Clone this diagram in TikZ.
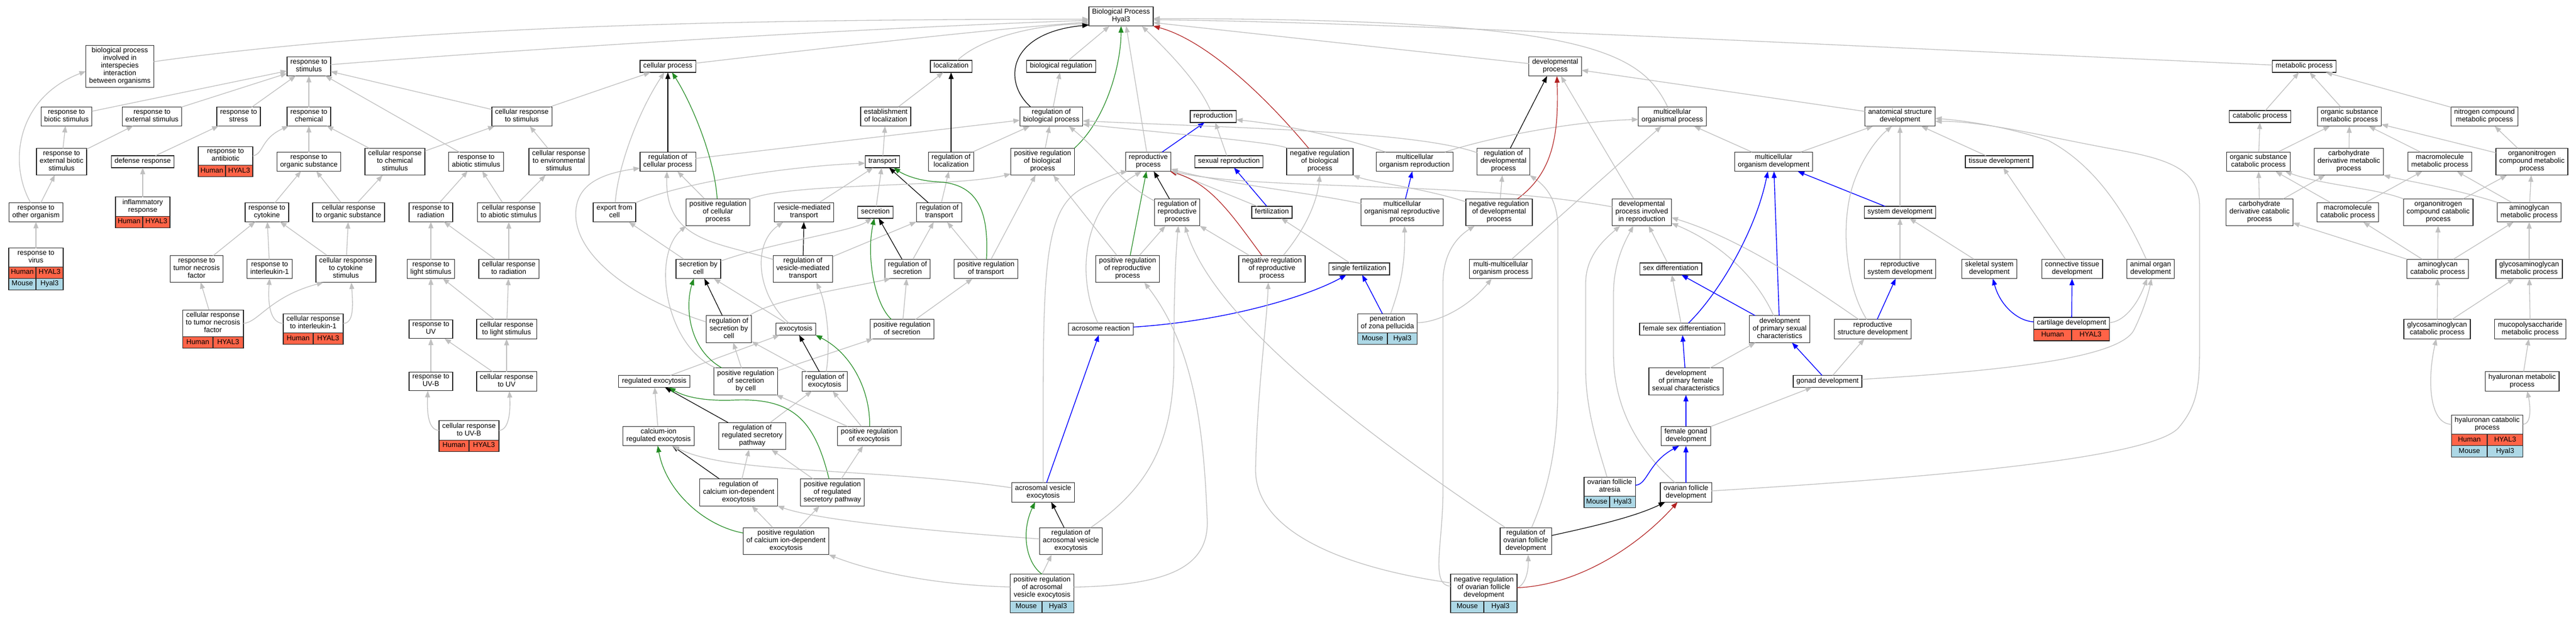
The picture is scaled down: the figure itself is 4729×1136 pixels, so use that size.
\documentclass[tikz,border=0pt]{standalone}
\usepackage{fontspec}
\setmainfont{Liberation Sans}
\usetikzlibrary{arrows.meta,calc}
\definecolor{edgegray}{HTML}{C0C0C0}
\definecolor{posgreen}{HTML}{228B22}
\definecolor{negred}{HTML}{B22222}
\definecolor{partblue}{HTML}{0000FF}
\definecolor{humanred}{HTML}{FF6347}
\definecolor{mouseblue}{HTML}{ADD8E6}
\newcommand\gofont{\fontsize{13}{14}\selectfont}
\tikzset{
  gobox/.style={draw=black!85, line width=1.3pt, fill=white, font=\gofont, align=center,
    inner xsep=6pt, inner ysep=4pt, outer sep=0pt,
    execute at begin node=\strut, execute at end node=\strut},
  gcell/.style={draw=black!85, line width=1.3pt, font=\gofont, inner sep=0pt, outer sep=0pt,
    minimum height=21pt, execute at begin node=\strut},
  human/.style={fill=humanred},
  mouse/.style={fill=mouseblue},
  isa/.style={draw=edgegray, line width=1.3pt, -{Triangle[length=12pt,width=9pt]}},
  reglink/.style={isa, draw=black, line width=1.2pt},
  poslink/.style={isa, draw=posgreen, line width=1.2pt},
  neglink/.style={isa, draw=negred, line width=1.2pt},
  partlink/.style={isa, draw=partblue, line width=1.4pt},
}
\newcommand\genecells[6]{%
  \path let \p1=(#1), \p2=(#2), \n1={(\x2-\x1)/2} in
    node[gcell,#4,minimum width=\n1,anchor=north west] (#3a) at (\p1) {#5}
    node[gcell,#4,minimum width=\n1,anchor=north east] (#3b) at (\p2) {#6};%
}
\begin{document}
\begin{tikzpicture}[x=1pt,y=-1pt]
\useasboundingbox (0,0) rectangle (4729,1136);
\fill[white] (0,0) rectangle (4729,1136);

% ---------- row 1-2
\node[gobox] (BP) at (2058,30) {Biological Process\\Hyal3};
\node[gobox] (bpi) at (220,122) {biological process\\involved in\\interspecies\\interaction\\between organisms};
\node[gobox] (rstim) at (567,122) {response to\\stimulus};
\node[gobox] (cellp) at (1226,122) {cellular process};
\node[gobox] (loc) at (1746,122) {localization};
\node[gobox] (bioreg) at (1948,122) {biological regulation};
\node[gobox] (dev) at (2855,122) {developmental\\process};
\node[gobox] (metab) at (4230,122) {metabolic process};
% ---------- row 3
\node[gobox] (rbio) at (122,214) {response to\\biotic stimulus};
\node[gobox] (rext) at (279,214) {response to\\external stimulus};
\node[gobox] (rstress) at (438,214) {response to\\stress};
\node[gobox] (rchem) at (567,214) {response to\\chemical};
\node[gobox] (crstim) at (958,214) {cellular response\\to stimulus};
\node[gobox] (estloc) at (1626,214) {establishment\\of localization};
\node[gobox] (regbp) at (1930,214) {regulation of\\biological process};
\node[gobox] (repro) at (2227,214) {reproduction};
\node[gobox] (mcop) at (3070,214) {multicellular\\organismal process};
\node[gobox] (asd) at (3488,214) {anatomical structure\\development};
\node[gobox] (catab) at (4149,214) {catabolic process};
\node[gobox] (osmp) at (4313,214) {organic substance\\metabolic process};
\node[gobox] (ncmp) at (4561,214) {nitrogen compound\\metabolic process};
% ---------- row 4
\node[gobox] (rextbio) at (113,297) {response to\\external biotic\\stimulus};
\node[gobox] (defr) at (262,297) {defense response};
\node[gobox,minimum width=100pt] (ranti) at (414,286.5) {response to\\antibiotic};
\node[gobox] (rorg) at (567,297) {response to\\organic substance};
\node[gobox] (crchem) at (725,297) {cellular response\\to chemical\\stimulus};
\node[gobox] (rabio) at (874,297) {response to\\abiotic stimulus};
\node[gobox] (crenv) at (1026,297) {cellular response\\to environmental\\stimulus};
\node[gobox] (regcp) at (1226,297) {regulation of\\cellular process};
\node[gobox] (transp) at (1620,297) {transport};
\node[gobox] (regloc) at (1746,297) {regulation of\\localization};
\node[gobox] (pregbp) at (1914,297) {positive regulation\\of biological\\process};
\node[gobox] (rproc) at (2108,297) {reproductive\\process};
\node[gobox] (sexrep) at (2256,297) {sexual reproduction};
\node[gobox] (nregbp) at (2423,297) {negative regulation\\of biological\\process};
\node[gobox] (mcorep) at (2597,297) {multicellular\\organism reproduction};
\node[gobox] (regdev) at (2760,297) {regulation of\\developmental\\process};
\node[gobox] (mcodev) at (3256,297) {multicellular\\organism development};
\node[gobox] (tisdev) at (3670,297) {tissue development};
\node[gobox] (oscp) at (4146,297) {organic substance\\catabolic process};
\node[gobox] (cdmp) at (4312,297) {carbohydrate\\derivative metabolic\\process};
\node[gobox] (mmp) at (4479,297) {macromolecule\\metabolic process};
\node[gobox] (oncmp) at (4648,297) {organonitrogen\\compound metabolic\\process};
% ---------- row 5
\node[gobox] (roth) at (66,390) {response to\\other organism};
\node[gobox,minimum width=100pt] (inflam) at (262,379.5) {inflammatory\\response};
\node[gobox] (rcyt) at (490,390) {response to\\cytokine};
\node[gobox] (crorg) at (640,390) {cellular response\\to organic substance};
\node[gobox] (rrad) at (791,390) {response to\\radiation};
\node[gobox] (crabio) at (934,390) {cellular response\\to abiotic stimulus};
\node[gobox] (expc) at (1128,390) {export from\\cell};
\node[gobox] (pregcp) at (1318,390) {positive regulation\\of cellular\\process};
\node[gobox] (vmt) at (1476,390) {vesicle-mediated\\transport};
\node[gobox] (secr) at (1607,390) {secretion};
\node[gobox] (regtr) at (1724,390) {regulation of\\transport};
\node[gobox] (regrp) at (2161,390) {regulation of\\reproductive\\process};
\node[gobox] (fert) at (2335,390) {fertilization};
\node[gobox] (mcorp) at (2574,390) {multicellular\\organismal reproductive\\process};
\node[gobox] (nregdev) at (2752,390) {negative regulation\\of developmental\\process};
\node[gobox] (dpir) at (3014,390) {developmental\\process involved\\in reproduction};
\node[gobox] (sysdev) at (3488,390) {system development};
\node[gobox] (cdcp) at (4148,390) {carbohydrate\\derivative catabolic\\process};
\node[gobox] (mcp) at (4310,390) {macromolecule\\catabolic process};
\node[gobox] (onccp) at (4476,390) {organonitrogen\\compound catabolic\\process};
\node[gobox] (amp) at (4643,390) {aminoglycan\\metabolic process};
% ---------- row 6
\node[gobox,minimum width=100pt] (rvir) at (66,473) {response to\\virus};
\node[gobox] (rtnf) at (361,494) {response to\\tumor necrosis\\factor};
\node[gobox] (ril1) at (495,494) {response to\\interleukin-1};
\node[gobox] (crcyt) at (635,494) {cellular response\\to cytokine\\stimulus};
\node[gobox] (rlight) at (791,494) {response to\\light stimulus};
\node[gobox] (crrad) at (934,494) {cellular response\\to radiation};
\node[gobox] (secc) at (1282,494) {secretion by\\cell};
\node[gobox] (regvmt) at (1474,494) {regulation of\\vesicle-mediated\\transport};
\node[gobox] (regsec) at (1666,494) {regulation of\\secretion};
\node[gobox] (pregtr) at (1810,494) {positive regulation\\of transport};
\node[gobox] (pregrp) at (2070,494) {positive regulation\\of reproductive\\process};
\node[gobox] (nregrp) at (2335,494) {negative regulation\\of reproductive\\process};
\node[gobox] (sfert) at (2495,494) {single fertilization};
\node[gobox] (mmop) at (2755,494) {multi-multicellular\\organism process};
\node[gobox] (sexdiff) at (3067,494) {sex differentiation};
\node[gobox] (rsd) at (3488,494) {reproductive\\system development};
\node[gobox] (ssd) at (3652,494) {skeletal system\\development};
\node[gobox] (ctd) at (3804,494) {connective tissue\\development};
\node[gobox] (aod) at (3948,494) {animal organ\\development};
\node[gobox] (acp) at (4475,494) {aminoglycan\\catabolic process};
\node[gobox] (gagmp) at (4643,494) {glycosaminoglycan\\metabolic process};
% ---------- row 7
\node[gobox,minimum width=100pt] (crtnf) at (391,594) {cellular response\\to tumor necrosis\\factor};
\node[gobox,minimum width=100pt] (cril1) at (575,594) {cellular response\\to interleukin-1};
\node[gobox] (ruv) at (791,604.5) {response to\\UV};
\node[gobox] (crlight) at (930,604.5) {cellular response\\to light stimulus};
\node[gobox] (regsecc) at (1338,604.5) {regulation of\\secretion by\\cell};
\node[gobox] (exo) at (1461,604.5) {exocytosis};
\node[gobox] (pregsec) at (1656,604.5) {positive regulation\\of secretion};
\node[gobox] (acr) at (2021,604.5) {acrosome reaction};
\node[gobox,minimum width=94pt] (pzp) at (2547,594) {penetration\\of zona pellucida};
\node[gobox] (fsd) at (3088,604.5) {female sex differentiation};
\node[gobox] (dpsc) at (3267,604.5) {development\\of primary sexual\\characteristics};
\node[gobox] (rstd) at (3438,604.5) {reproductive\\structure development};
\node[gobox,minimum width=100pt] (cartd) at (3803,594) {cartilage development};
\node[gobox] (gagcp) at (4474,604.5) {glycosaminoglycan\\catabolic process};
\node[gobox] (mpsmp) at (4645,604.5) {mucopolysaccharide\\metabolic process};
% ---------- row 8
\node[gobox] (ruvb) at (791,700.5) {response to\\UV-B};
\node[gobox] (cruv) at (930,700.5) {cellular response\\to UV};
\node[gobox] (rexo) at (1201,700.5) {regulated exocytosis};
\node[gobox] (pregsecc) at (1369,700.5) {positive regulation\\of secretion\\by cell};
\node[gobox] (regexo) at (1514,700.5) {regulation of\\exocytosis};
\node[gobox] (dpfsc) at (3095,700.5) {development\\of primary female\\sexual characteristics};
\node[gobox] (gonad) at (3355,700.5) {gonad development};
\node[gobox] (hymp) at (4630,700.5) {hyaluronan metabolic\\process};
% ---------- row 9
\node[gobox,minimum width=100pt] (cruvb) at (861,790.5) {cellular response\\to UV-B};
\node[gobox] (caexo) at (1209,801) {calcium-ion\\regulated exocytosis};
\node[gobox] (regrsp) at (1381,801) {regulation of\\regulated secretory\\pathway};
\node[gobox] (pregexo) at (1596,801) {positive regulation\\of exocytosis};
\node[gobox] (fgd) at (3095,801) {female gonad\\development};
\node[gobox,minimum width=100pt] (hycp) at (4566,780) {hyaluronan catabolic\\process};
% ---------- row 10
\node[gobox] (regcaexo) at (1356,904.5) {regulation of\\calcium ion-dependent\\exocytosis};
\node[gobox] (pregrsp) at (1528,904.5) {positive regulation\\of regulated\\secretory pathway};
\node[gobox] (avexo) at (1915,904.5) {acrosomal vesicle\\exocytosis};
\node[gobox,minimum width=94pt] (ofa) at (2955,894) {ovarian follicle\\atresia};
\node[gobox] (ofd) at (3095,904.5) {ovarian follicle\\development};
% ---------- row 11-12
\node[gobox] (pregcaexo) at (1443,994) {positive regulation\\of calcium ion-dependent\\exocytosis};
\node[gobox] (regavexo) at (1966,994) {regulation of\\acrosomal vesicle\\exocytosis};
\node[gobox] (regofd) at (2801,994) {regulation of\\ovarian follicle\\development};
\node[gobox,minimum width=94pt] (pregavexo) at (1913,1079.5) {positive regulation\\of acrosomal\\vesicle exocytosis};
\node[gobox,minimum width=94pt] (nregofd) at (2724,1079.5) {negative regulation\\of ovarian follicle\\development};

% ---------- gene cells
\genecells{ranti.south west}{ranti.south east}{rantiH}{human}{Human}{HYAL3}
\genecells{inflam.south west}{inflam.south east}{inflamH}{human}{Human}{HYAL3}
\genecells{rvir.south west}{rvir.south east}{rvirH}{human}{Human}{HYAL3}
\genecells{rvirHa.south west}{rvirHb.south east}{rvirM}{mouse}{Mouse}{Hyal3}
\genecells{crtnf.south west}{crtnf.south east}{crtnfH}{human}{Human}{HYAL3}
\genecells{cril1.south west}{cril1.south east}{cril1H}{human}{Human}{HYAL3}
\genecells{cruvb.south west}{cruvb.south east}{cruvbH}{human}{Human}{HYAL3}
\genecells{cartd.south west}{cartd.south east}{cartdH}{human}{Human}{HYAL3}
\genecells{pzp.south west}{pzp.south east}{pzpM}{mouse}{Mouse}{Hyal3}
\genecells{ofa.south west}{ofa.south east}{ofaM}{mouse}{Mouse}{Hyal3}
\genecells{pregavexo.south west}{pregavexo.south east}{pregavexoM}{mouse}{Mouse}{Hyal3}
\genecells{nregofd.south west}{nregofd.south east}{nregofdM}{mouse}{Mouse}{Hyal3}
\genecells{hycp.south west}{hycp.south east}{hycpH}{human}{Human}{HYAL3}
\genecells{hycpHa.south west}{hycpHb.south east}{hycpM}{mouse}{Mouse}{Hyal3}

% ---------- straight is_a edges
\foreach \a/\b in {rbio/rstim, rext/rstim, rstress/rstim, rchem/rstim, crstim/rstim, crstim/cellp, rabio/rstim,
  rextbio/rbio, rextbio/rext, defr/rstress, rorg/rchem, crchem/rchem, crchem/crstim,
  roth/rextbio, inflam/defr, rcyt/rorg, crorg/rorg, crorg/crchem, rrad/rabio,
  crenv/crstim, crabio/rabio, crabio/crenv,
  rvir/roth, rtnf/rcyt, ril1/rcyt, crcyt/rcyt, crcyt/crorg, rlight/rrad, crrad/rrad, crrad/crabio,
  crtnf/rtnf, ruv/rlight, crlight/rlight, crlight/crrad, ruvb/ruv, cruv/ruv, cruv/crlight,
  regcp/regbp, pregcp/regcp, vmt/transp, secc/expc, regvmt/regtr,
  regexo/regsecc, pregsecc/regsecc, pregsecc/pregsec, caexo/rexo, regrsp/regexo, pregexo/regexo, pregexo/pregsecc,
  regcaexo/regrsp, pregrsp/regrsp, pregrsp/pregexo, pregcaexo/regcaexo, pregcaexo/pregrsp,
  transp/estloc, estloc/loc, regloc/regbp, regtr/regloc, secr/transp,
  pregtr/regtr, pregtr/pregbp, regsec/regtr, pregsec/regsec, pregsec/pregtr,
  regbp/bioreg, pregbp/regbp, bioreg/BP,
  pregrp/regrp, pregrp/pregbp, nregrp/regrp, sexrep/repro, sfert/fert, fert/rproc,
  nregdev/regdev, dpir/dev, asd/dev, mmop/mcop, mcodev/mcop,
  sexdiff/dpir, fsd/sexdiff, dpfsc/dpsc, fgd/gonad, gonad/rstd,
  mcodev/asd, sysdev/asd, tisdev/asd, rsd/sysdev, ssd/sysdev, ctd/tisdev,
  catab/metab, osmp/metab, ncmp/metab, oscp/catab, oscp/osmp, cdmp/osmp, mmp/osmp, oncmp/osmp, oncmp/ncmp,
  cdcp/oscp, cdcp/cdmp, mcp/oscp, mcp/mmp, onccp/oncmp, amp/mmp, amp/oncmp,
  acp/cdcp, acp/mcp, acp/onccp, acp/amp, gagmp/amp, gagcp/acp, gagcp/gagmp, mpsmp/gagmp, hymp/mpsmp}
  \draw[isa] (\a) -- (\b);
\draw[isa] (rproc) -- (BP.-62);
\draw[isa] (dev) -- (BP.-11);
\draw[isa] (exo) -- (secc.-32);
\draw[isa] (rexo) -- (exo);
\draw[isa] (pregavexo.north) -- (regavexo.-145);

% ---------- straight regulates / part_of / positive
\foreach \a/\b in {regcp/cellp, regloc/loc, regtr/transp, regsec/secr, regvmt/vmt, regexo/exo,
  regrsp/rexo, regcaexo/caexo, regrp/rproc}
  \draw[reglink] (\a) -- (\b);
\draw[reglink] (regsecc) -- (secc.-58);
\draw[reglink] (regavexo) -- (avexo.-50);
\draw[reglink] (regdev) -- (dev.-130);
\draw[poslink] (pregrp) -- (rproc);
\foreach \a/\b in {rproc/repro, fert/sexrep, mcorp/mcorep, avexo/acr, pzp/sfert, dpsc/mcodev,
  sysdev/mcodev, dpsc/sexdiff, dpfsc/fsd, fgd/dpfsc, gonad/dpsc, ofd/fgd, rstd/rsd, cartd/ctd}
  \draw[partlink] (\a) -- (\b);

% ---------- curved edges into the root
\draw[isa] (bpi) .. controls (800,40) and (1500,36) .. (BP.185);
\draw[isa] (rstim) .. controls (900,95) and (1500,55) .. (BP.187);
\draw[isa] (cellp) .. controls (1500,90) and (1800,55) .. (BP.190);
\draw[isa] (loc) .. controls (1800,70) and (1900,45) .. (BP.193);
\draw[isa] (repro) .. controls (2200,150) and (2140,90) .. (BP.-25);
\draw[isa] (mcop) .. controls (3010,90) and (2900,35) .. (BP.-4);
\draw[isa] (metab) .. controls (3500,90) and (2600,42) .. (BP.-6);
\draw[reglink] (regbp.155) .. controls (1840,150) and (1850,60) .. (BP.195);
\draw[poslink] (pregbp.north east) .. controls (2030,220) and (2058,120) .. (BP.south);
\draw[neglink] (nregbp) .. controls (2300,150) and (2200,70) .. (BP.south east);

% ---------- curved edges, left part
\draw[isa] (roth.119) .. controls (15,300) and (30,180) .. (bpi.188);
\draw[isa] (ranti.east) .. controls (485,282) and (478,255) .. (rchem.205);
\draw[isa] (crtnf.east) .. controls (475,592) and (495,545) .. (crcyt.211);
\draw[isa] (cril1.west) .. controls (497,594) and (491,560) .. (ril1.south);
\draw[isa] (cril1.east) .. controls (650,594) and (648,560) .. (crcyt.-68);
\draw[isa] (cruvb.west) .. controls (784,790) and (784,750) .. (ruvb.-108);
\draw[isa] (cruvb.east) .. controls (936,790) and (937,750) .. (cruv.-74);

% ---------- curved edges, cellular / transport part
\draw[isa] (expc) .. controls (1135,300) and (1175,200) .. (cellp.-120);
\draw[isa] (expc) .. controls (1250,335) and (1450,305) .. (transp.185);
\draw[poslink] (pregcp) .. controls (1312,290) and (1270,190) .. (cellp.-55);
\draw[isa] (pregcp) .. controls (1450,335) and (1750,345) .. (pregbp.201);
\draw[isa] (regvmt) .. controls (1320,445) and (1220,445) .. (regcp.-95);
\draw[isa] (regsecc) .. controls (1150,545) and (1045,460) .. (1058,380) .. controls (1065,335) and (1110,318) .. (regcp.193);
\draw[isa] (pregsecc) .. controls (1222,635) and (1195,470) .. (pregcp.south west);
\draw[poslink] (pregsecc) .. controls (1262,640) and (1258,560) .. (secc.-115);
\draw[isa] (exo) .. controls (1392,545) and (1378,450) .. (vmt.205);
\draw[isa] (regsecc) .. controls (1420,550) and (1550,530) .. (regsec.210);
\draw[isa] (regexo) .. controls (1525,630) and (1518,560) .. (regvmt.-45);
\draw[isa] (secc) .. controls (1420,445) and (1565,425) .. (secr.-120);
\draw[poslink] (pregrsp) .. controls (1495,770) and (1455,730) .. (1345,735) .. controls (1290,737) and (1255,728) .. (rexo.-22);
\draw[poslink] (pregexo) .. controls (1598,720) and (1565,650) .. (exo.south east);
\draw[poslink] (pregcaexo) .. controls (1290,965) and (1222,900) .. (caexo.-95);
\draw[isa] (avexo) .. controls (1600,858) and (1340,872) .. (caexo.-35);
\draw[isa] (avexo) .. controls (1915,500) and (1910,380) .. (1995,342) .. controls (2030,326) and (2050,318) .. (rproc.205);
\draw[isa] (acr) .. controls (1980,520) and (1978,385) .. (rproc.-125);
\draw[partlink] (acr) .. controls (2250,590) and (2400,545) .. (sfert.-155);
\draw[poslink] (pregtr) .. controls (1815,395) and (1800,338) .. (1722,334) .. controls (1680,332) and (1655,318) .. (transp.-28);
\draw[poslink] (pregsec) .. controls (1605,558) and (1590,470) .. (secr.-100);
\draw[isa] (regavexo) .. controls (1700,975) and (1500,955) .. (regcaexo.south east);
\draw[isa] (pregavexo) .. controls (1720,1075) and (1600,1050) .. (pregcaexo.south east);
\draw[poslink] (pregavexo.north) .. controls (1885,1035) and (1873,980) .. (avexo.-130);
\draw[isa] (pregavexo) .. controls (2150,1075) and (2222,1040) .. (2216,950) .. controls (2210,800) and (2195,640) .. (pregrp.-39);
\draw[isa] (regavexo) .. controls (2110,895) and (2155,810) .. (2155,660) .. controls (2155,540) and (2158,470) .. (regrp.-85);

% ---------- curved edges, reproduction / development part
\draw[isa] (regofd) .. controls (2420,740) and (2220,560) .. (regrp.-60);
\draw[isa] (nregofd) .. controls (2450,1040) and (2302,970) .. (2305,860) .. controls (2308,720) and (2325,600) .. (nregrp.-105);
\draw[isa] (nregofd) .. controls (2625,1075) and (2649,1000) .. (2649,900) -- (2649,520) .. controls (2649,465) and (2675,435) .. (nregdev.-151);
\draw[isa] (regofd) .. controls (2850,880) and (2860,800) .. (2860,700) -- (2860,420) .. controls (2860,365) and (2835,340) .. (regdev.south east);
\draw[isa] (nregofd.east) .. controls (2800,1075) and (2806,1050) .. (regofd.-80);
\draw[neglink] (nregofd.east) .. controls (2900,1075) and (3010,1000) .. (ofd.-131);
\draw[reglink] (regofd) .. controls (2920,968) and (3000,950) .. (ofd.205);
\draw[isa] (ofa) .. controls (2940,840) and (2911,760) .. (2911,680) -- (2911,520) .. controls (2911,470) and (2945,440) .. (dpir.-148);
\draw[isa] (ofd) .. controls (3000,820) and (2962,740) .. (2962,650) -- (2962,540) .. controls (2962,480) and (2985,440) .. (dpir.-122);
\draw[partlink] (ofa) .. controls (3025,890) and (3025,850) .. (fgd.-125);
\draw[isa] (ofd) .. controls (3500,880) and (3950,845) .. (4000,785) .. controls (4038,740) and (4038,700) .. (4038,620) -- (4038,380) .. controls (4038,310) and (3980,292) .. (3880,274) .. controls (3760,252) and (3640,222) .. (asd.-8);
\draw[isa] (aod) .. controls (3915,420) and (3860,310) .. (3760,258) .. controls (3680,232) and (3610,222) .. (asd.-3);
\draw[isa] (gonad) .. controls (3700,680) and (3895,655) .. (3918,605) .. controls (3935,570) and (3944,540) .. (aod.-85);
\draw[isa] (cartd) .. controls (3895,592) and (3922,565) .. (aod.-110);
\draw[partlink] (cartd) .. controls (3705,590) and (3672,562) .. (ssd.-70);
\draw[isa] (dpsc) .. controls (3225,510) and (3160,448) .. (dpir.-20);
\draw[isa] (rstd) .. controls (3330,530) and (3200,440) .. (dpir.-10);
\draw[isa] (rstd) .. controls (3385,520) and (3378,400) .. (3405,330) .. controls (3420,290) and (3445,255) .. (asd.-130);
\draw[partlink] (fsd) .. controls (3150,545) and (3222,430) .. (mcodev.-121);
\draw[isa] (pzp) .. controls (2565,540) and (2580,500) .. (mcorp.-80);
\draw[isa] (pzp) .. controls (2640,592) and (2695,565) .. (mmop.-133);
\draw[isa] (nregrp) .. controls (2405,410) and (2419,360) .. (nregbp.south);
\draw[neglink] (nregrp) .. controls (2265,400) and (2225,338) .. (rproc.-24);
\draw[isa] (regrp) .. controls (2062,340) and (2022,280) .. (regbp.-29);
\draw[isa] (mcorep) .. controls (2750,248) and (2900,222) .. (mcop.185);
\draw[isa] (mcorep) .. controls (2450,248) and (2350,228) .. (repro.-8);
\draw[isa] (regdev) .. controls (2600,242) and (2300,236) .. (regbp.-8);
\draw[isa] (nregbp) .. controls (2340,262) and (2200,250) .. (regbp.-14);
\draw[isa] (nregdev) .. controls (2610,345) and (2520,335) .. (nregbp.south east);
\draw[neglink] (nregdev) .. controls (2850,318) and (2862,250) .. (dev.-80);
\draw[isa] (dpir) .. controls (2700,332) and (2300,350) .. (rproc.-22);
\draw[isa] (mcorp) .. controls (2400,353) and (2250,338) .. (rproc.-18);

% ---------- curved edges, metabolic part
\draw[isa] (onccp) .. controls (4360,345) and (4262,340) .. (oscp.-20);
\draw[isa] (amp) .. controls (4500,345) and (4420,333) .. (cdmp.south east);
\draw[isa] (hycp) .. controls (4460,779) and (4455,700) .. (gagcp.-95);
\draw[isa] (hycp) .. controls (4648,779) and (4645,745) .. (hymp.-62);
\end{tikzpicture}
\end{document}
